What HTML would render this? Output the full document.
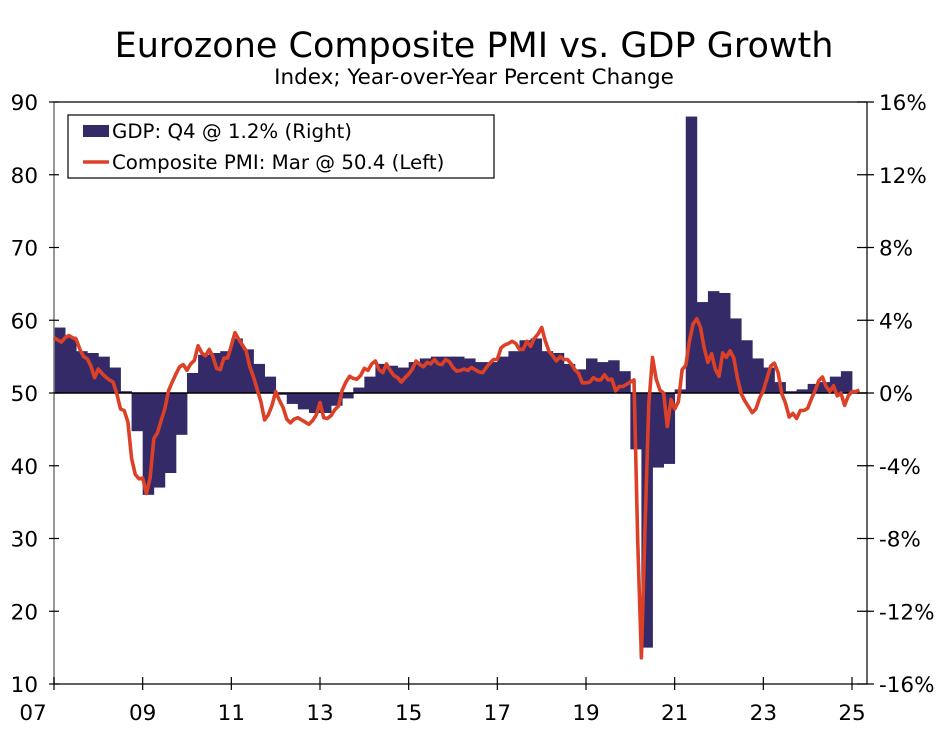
<!DOCTYPE html>
<html><head><meta charset="utf-8"><style>
body{margin:0;background:#fff;}
svg text{font-family:"DejaVu Sans","Liberation Sans",sans-serif;fill:#000;}
</style></head><body>
<svg id="chart" width="949" height="727" viewBox="0 0 949 727" xmlns="http://www.w3.org/2000/svg">
<text x="474" y="57" font-size="35" text-anchor="middle">Eurozone Composite PMI vs. GDP Growth</text>
<text x="474" y="84" font-size="21.5" text-anchor="middle">Index; Year-over-Year Percent Change</text>
<g id="bars"></g>
<g id="axes"></g>
<path id="pmi" fill="none" stroke="#dc4128" stroke-width="3.6" stroke-linejoin="round"/>
<g>
<rect x="68" y="115" width="426" height="63" fill="#fff" stroke="#000" stroke-width="1.2"/>
<rect x="83" y="125" width="26" height="12" fill="#352a68"/>
<text x="112" y="138" font-size="19.8">GDP: Q4 @ 1.2% (Right)</text>
<line x1="83" y1="162" x2="109" y2="162" stroke="#dc4128" stroke-width="3.5"/>
<text x="112" y="169" font-size="19.8">Composite PMI: Mar @ 50.4 (Left)</text>
</g>
</svg>
<script>
const gdpStartYear = 2007;
const gdpValues = [3.6,3.1,2.3,2.2, 2.0,1.4,0.1,-2.1, -5.6,-5.2,-4.4,-2.3, 1.1,2.1,2.2,2.3, 3.0,2.4,1.6,0.9, -0.1,-0.6,-0.9,-1.1, -1.1,-0.7,-0.3,0.3, 0.9,1.6,1.5,1.4, 1.7,1.9,2.0,2.0, 2.0,1.9,1.7,1.7, 2.0,2.3,2.9,3.0, 2.3,2.2,1.6,1.3, 1.9,1.7,1.8,1.2, -3.1,-14.0,-4.1,-3.9, 0.2,15.2,5.0,5.6, 5.5,4.1,2.9,1.9, 1.4,0.6,0.1,0.2, 0.5,0.6,0.9,1.2];
const pmiStartYear = 2007;
const pmiValues = [
57.6,57.3,57.0,57.6,57.9,57.6,57.4,56.0,55.0,54.7,53.7,52.1,
53.3,52.7,52.2,51.8,51.5,49.9,47.8,47.6,46.0,41.0,38.8,38.2,
38.3,36.2,38.3,43.7,44.5,46.2,47.8,50.3,51.5,52.6,53.6,53.9,
53.1,54.0,54.5,56.5,55.5,55.1,56.0,55.0,53.4,53.2,54.8,54.8,
56.5,58.3,57.4,56.6,55.8,53.6,52.2,50.5,48.8,46.3,47.0,48.3,
50.2,49.0,48.0,46.4,45.9,46.4,46.6,46.3,46.0,45.7,46.2,47.0,
48.7,46.6,46.5,46.9,47.7,48.2,50.4,51.5,52.3,52.0,51.9,52.4,
53.4,53.1,54.0,54.4,53.2,52.8,54.0,53.1,52.4,52.1,51.5,52.1,
52.6,53.3,54.4,53.9,53.6,54.2,54.0,54.6,54.0,53.9,54.6,54.3,
53.5,53.0,53.1,53.3,53.1,53.5,53.2,52.9,52.8,53.5,54.1,54.6,
54.6,56.2,56.6,56.8,57.1,56.8,56.0,56.0,57.1,56.4,57.5,58.1,
59.0,57.1,55.7,55.1,54.4,55.0,54.6,54.6,54.0,53.2,52.7,51.4,
51.4,51.5,52.1,51.8,51.8,52.5,51.8,51.9,50.3,50.9,50.9,51.2,
51.5,51.8,29.7,13.6,31.9,48.5,54.9,51.9,50.4,50.0,45.4,49.1,
47.8,48.8,53.2,53.8,57.1,59.5,60.2,59.0,56.2,54.2,55.4,53.3,
52.3,55.5,54.9,55.8,54.8,52.0,49.9,48.9,48.1,47.3,47.8,49.3,
50.3,52.0,53.7,54.1,52.8,49.9,48.6,46.7,47.2,46.5,47.6,47.6,
47.9,49.2,50.3,51.7,52.2,50.9,50.2,51.0,49.6,50.0,48.3,49.6,
50.2,50.2,50.4];
const leftTicks = [90,80,70,60,50,40,30,20,10];
const rightTicks = [16,12,8,4,0,-4,-8,-12,-16];
const rightTickLabels = ["16%","12%","8%","4%","0%","-4%","-8%","-12%","-16%"];
const xTickYears = [2007,2009,2011,2013,2015,2017,2019,2021,2023,2025];
const xTickLabels = ["07","09","11","13","15","17","19","21","23","25"];

const L=54,R=867,T=102,B=684;
const X=t=>L+(t-2007)*(852-54)/18;
const YL=v=>B-(v-10)/80*(B-T);
const YR=p=>B-(p+16)/32*(B-T);
const NS='http://www.w3.org/2000/svg';
function mk(tag,attrs,parent){const e=document.createElementNS(NS,tag);for(const k in attrs)e.setAttribute(k,attrs[k]);parent.appendChild(e);return e;}

const bars=document.getElementById('bars');
gdpValues.forEach((v,i)=>{
  const t=gdpStartYear+i/4;
  const x0=X(t),x1=X(t+0.25);
  const y0=YR(0),y1=YR(v);
  const r=mk('rect',{x:x0,y:Math.min(y0,y1),width:x1-x0+0.4,height:Math.abs(y1-y0),fill:'#352a68'},bars);
  
  
});

let d='';
pmiValues.forEach((v,i)=>{const t=pmiStartYear+i/12;d+=(i?'L':'M')+X(t).toFixed(1)+','+YL(v).toFixed(1);});
document.getElementById('pmi').setAttribute('d',d);

const ax=document.getElementById('axes');
const z=mk('line',{x1:L,x2:R,y1:YR(0),y2:YR(0),stroke:'#000','stroke-width':1.5},ax);


const fr=mk('path',{d:`M${L},${T}H${R}V${B}H${L}Z`,fill:'none',stroke:'#000','stroke-width':1.2},ax);


const la=mk('line',{x1:L,x2:L,y1:T,y2:B,stroke:'#888','stroke-width':1.5},ax);


leftTicks.forEach(v=>{
  const y=YL(v);
  mk('line',{x1:L-5,x2:L+5,y1:y,y2:y,stroke:'#000','stroke-width':1.2},ax);
  const t=mk('text',{x:38,y:y+8,'font-size':21.5,'text-anchor':'end'},ax);
  t.textContent=v;
  
  
});
rightTicks.forEach((p,i)=>{
  const y=YR(p);
  mk('line',{x1:R-10,x2:R+7,y1:y,y2:y,stroke:'#000','stroke-width':1.2},ax);
  const t=mk('text',{x:879,y:y+8,'font-size':21.5},ax);
  t.textContent=rightTickLabels[i];
  
  
});
xTickYears.forEach((yr,i)=>{
  const x=X(yr);
  mk('line',{x1:x,x2:x,y1:B-7,y2:B+6,stroke:'#000','stroke-width':1.2},ax);
  const t=mk('text',{x:i===0?33:x,y:720,'font-size':21.5,'text-anchor':'middle'},ax);
  t.textContent=xTickLabels[i];
  
  
});
</script>
</body></html>
